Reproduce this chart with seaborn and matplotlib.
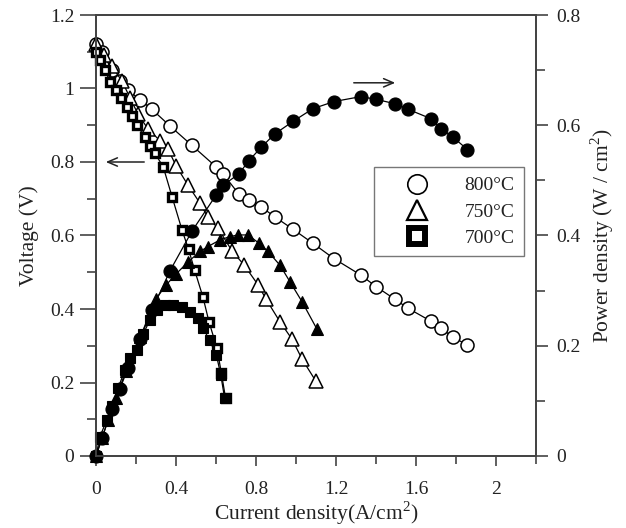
import matplotlib
matplotlib.use("Agg")
import matplotlib.pyplot as plt
from matplotlib.lines import Line2D
from matplotlib.ticker import MultipleLocator, FormatStrFormatter
import seaborn as sns

# 800 C: current density, voltage, power density
i800 = [0.00, 0.03, 0.08, 0.12, 0.16, 0.22, 0.28, 0.37, 0.48, 0.60, 0.635, 0.715, 0.765,
        0.826, 0.893, 0.985, 1.084, 1.19, 1.325, 1.40, 1.496, 1.56, 1.674, 1.724, 1.783, 1.857]
v800 = [1.12, 1.10, 1.05, 1.02, 0.995, 0.97, 0.943, 0.898, 0.845, 0.787, 0.768, 0.712, 0.697,
        0.678, 0.651, 0.617, 0.579, 0.537, 0.492, 0.461, 0.426, 0.402, 0.367, 0.347, 0.325, 0.301]
p800 = [0.0, 0.033, 0.085, 0.122, 0.160, 0.213, 0.265, 0.336, 0.408, 0.473, 0.491, 0.512, 0.536,
        0.560, 0.584, 0.607, 0.630, 0.643, 0.652, 0.647, 0.639, 0.629, 0.612, 0.594, 0.579, 0.556]

# 750 C
i750v = [0.00, 0.04, 0.08, 0.13, 0.17, 0.21, 0.26, 0.32, 0.36, 0.40, 0.46, 0.52, 0.56, 0.61,
         0.68, 0.74, 0.81, 0.85, 0.92, 0.98, 1.03, 1.10]
v750 = [1.12, 1.09, 1.06, 1.02, 0.975, 0.93, 0.89, 0.858, 0.835, 0.79, 0.737, 0.688, 0.649, 0.62,
        0.558, 0.52, 0.466, 0.427, 0.365, 0.318, 0.264, 0.203]
i750p = [0.00, 0.03, 0.06, 0.10, 0.15, 0.22, 0.30, 0.35, 0.40, 0.46, 0.52, 0.56, 0.62, 0.67,
         0.71, 0.76, 0.815, 0.86, 0.92, 0.97, 1.03, 1.105]
p750 = [0.0, 0.032, 0.065, 0.105, 0.155, 0.215, 0.285, 0.31, 0.33, 0.352, 0.371, 0.38, 0.392, 0.398,
        0.401, 0.401, 0.386, 0.371, 0.346, 0.316, 0.28, 0.23]

# 700 C
i700v = [0.00, 0.02, 0.045, 0.07, 0.10, 0.125, 0.153, 0.18, 0.203, 0.245, 0.27, 0.294, 0.336,
         0.38, 0.43, 0.463, 0.493, 0.535, 0.565, 0.605, 0.627, 0.648]
v700 = [1.10, 1.078, 1.05, 1.018, 0.996, 0.973, 0.95, 0.925, 0.90, 0.869, 0.844, 0.824, 0.787,
        0.706, 0.615, 0.562, 0.506, 0.432, 0.365, 0.293, 0.225, 0.157]
i700p = [0.00, 0.02, 0.053, 0.08, 0.11, 0.145, 0.17, 0.203, 0.237, 0.27, 0.303, 0.345, 0.386,
         0.428, 0.47, 0.51, 0.535, 0.568, 0.602, 0.624, 0.643]
p700 = [0.0, 0.035, 0.065, 0.09, 0.123, 0.156, 0.177, 0.192, 0.222, 0.247, 0.265, 0.274, 0.274,
        0.271, 0.262, 0.25, 0.232, 0.21, 0.183, 0.147, 0.105]

labels = ["800°C", "750°C", "700°C"]

sns.set_style("ticks")
plt.rcParams["font.family"] = ["Liberation Serif", "DejaVu Serif"]
plt.rcParams["mathtext.fontset"] = "custom"
plt.rcParams["mathtext.rm"] = "Liberation Serif"
plt.rcParams["text.color"] = "#222222"
plt.rcParams["axes.labelcolor"] = "#222222"
plt.rcParams["xtick.color"] = "#444444"
plt.rcParams["ytick.color"] = "#444444"
plt.rcParams["xtick.labelcolor"] = "#222222"
plt.rcParams["ytick.labelcolor"] = "#222222"

fig = plt.figure(figsize=(6.26, 5.28), dpi=100)
ax = fig.add_axes([96 / 626, 1 - 456 / 528, 440 / 626, 441 / 528])
ax2 = ax.twinx()

line = dict(color="black", lw=0.9, sort=False, estimator=None, clip_on=False)

# voltage curves (left axis)
sns.lineplot(x=i800, y=v800, ax=ax, marker="o", ms=9.4, mfc="white", mec="black", mew=1.1, **line)
sns.lineplot(x=i750v, y=v750, ax=ax, marker="^", ms=9.5, mfc="white", mec="black", mew=1.1, **line)
sns.lineplot(x=i700v, y=v700, ax=ax, marker="s", ms=5.2, mfc="white", mec="black", mew=2.4, **line)

# power curves (right axis)
sns.lineplot(x=i800, y=p800, ax=ax2, marker="o", ms=9.4, mfc="black", mec="black", mew=0.8, **line)
sns.lineplot(x=i750p, y=p750, ax=ax2, marker="^", ms=9.0, mfc="black", mec="black", mew=0.8, **line)
sns.lineplot(x=i700p, y=p700, ax=ax2, marker="s", ms=7.3, mfc="black", mec="black", mew=0.8, **line)

ax.set_xlim(0, 2.2)
ax.set_ylim(0, 1.2)
ax2.set_ylim(0, 0.8)

ax.xaxis.set_major_locator(MultipleLocator(0.4))
ax.xaxis.set_minor_locator(MultipleLocator(0.2))
ax.yaxis.set_major_locator(MultipleLocator(0.2))
ax.yaxis.set_minor_locator(MultipleLocator(0.1))
ax2.yaxis.set_major_locator(MultipleLocator(0.2))
ax2.yaxis.set_minor_locator(MultipleLocator(0.1))
for a in (ax.xaxis, ax.yaxis, ax2.yaxis):
    a.set_major_formatter(FormatStrFormatter("%g"))

ax.tick_params(axis="x", which="major", direction="out", length=7, width=1.2, pad=11, labelsize=14)
ax.tick_params(axis="x", which="minor", direction="out", length=6, width=1.2)
ax.tick_params(axis="y", which="major", direction="out", length=11.5, width=1.2, pad=4, labelsize=14)
ax.tick_params(axis="y", which="minor", direction="out", length=6.5, width=1.2)
ax2.tick_params(axis="y", which="major", direction="out", length=8.5, width=1.2, pad=6, labelsize=14)
ax2.tick_params(axis="y", which="minor", direction="out", length=6.5, width=1.2)

for a in (ax, ax2):
    for s in a.spines.values():
        s.set_color("#444444")
        s.set_linewidth(1.3)

ax.set_xlabel("Current density(A/cm$^\\mathregular{2}$)", fontsize=15.5, labelpad=1)
ax.set_ylabel("Voltage (V)", fontsize=15.5, labelpad=8)
ax2.set_ylabel("Power density (W / cm$^\\mathregular{2}$)", fontsize=15.5, labelpad=6)

# direction arrows
ax.annotate("", xy=(0.035, 0.8), xytext=(0.255, 0.8),
            arrowprops=dict(arrowstyle="->,head_length=0.7,head_width=0.3", lw=1.1, color="#222222"))
ax2.annotate("", xy=(1.51, 0.677), xytext=(1.275, 0.677),
             arrowprops=dict(arrowstyle="->,head_length=0.7,head_width=0.3", lw=1.1, color="#222222"))

handles = [
    Line2D([], [], ls="none", marker="o", ms=14, mfc="white", mec="black", mew=1.2),
    Line2D([], [], ls="none", marker="^", ms=14, mfc="white", mec="black", mew=1.6),
    Line2D([], [], ls="none", marker="s", ms=11, mfc="white", mec="black", mew=4.3),
]
leg = ax2.legend(handles, labels, loc="upper left", bbox_to_anchor=(374 / 626, 1 - 167 / 528),
                 bbox_transform=fig.transFigure, borderaxespad=0, borderpad=0.5,
                 handlelength=3.4, handletextpad=0.76, labelspacing=0.44,
                 fontsize=14, frameon=True, fancybox=False, framealpha=1)
leg.get_frame().set_edgecolor("#777777")
leg.get_frame().set_linewidth(1.0)

fig.savefig("out.png", dpi=100)
